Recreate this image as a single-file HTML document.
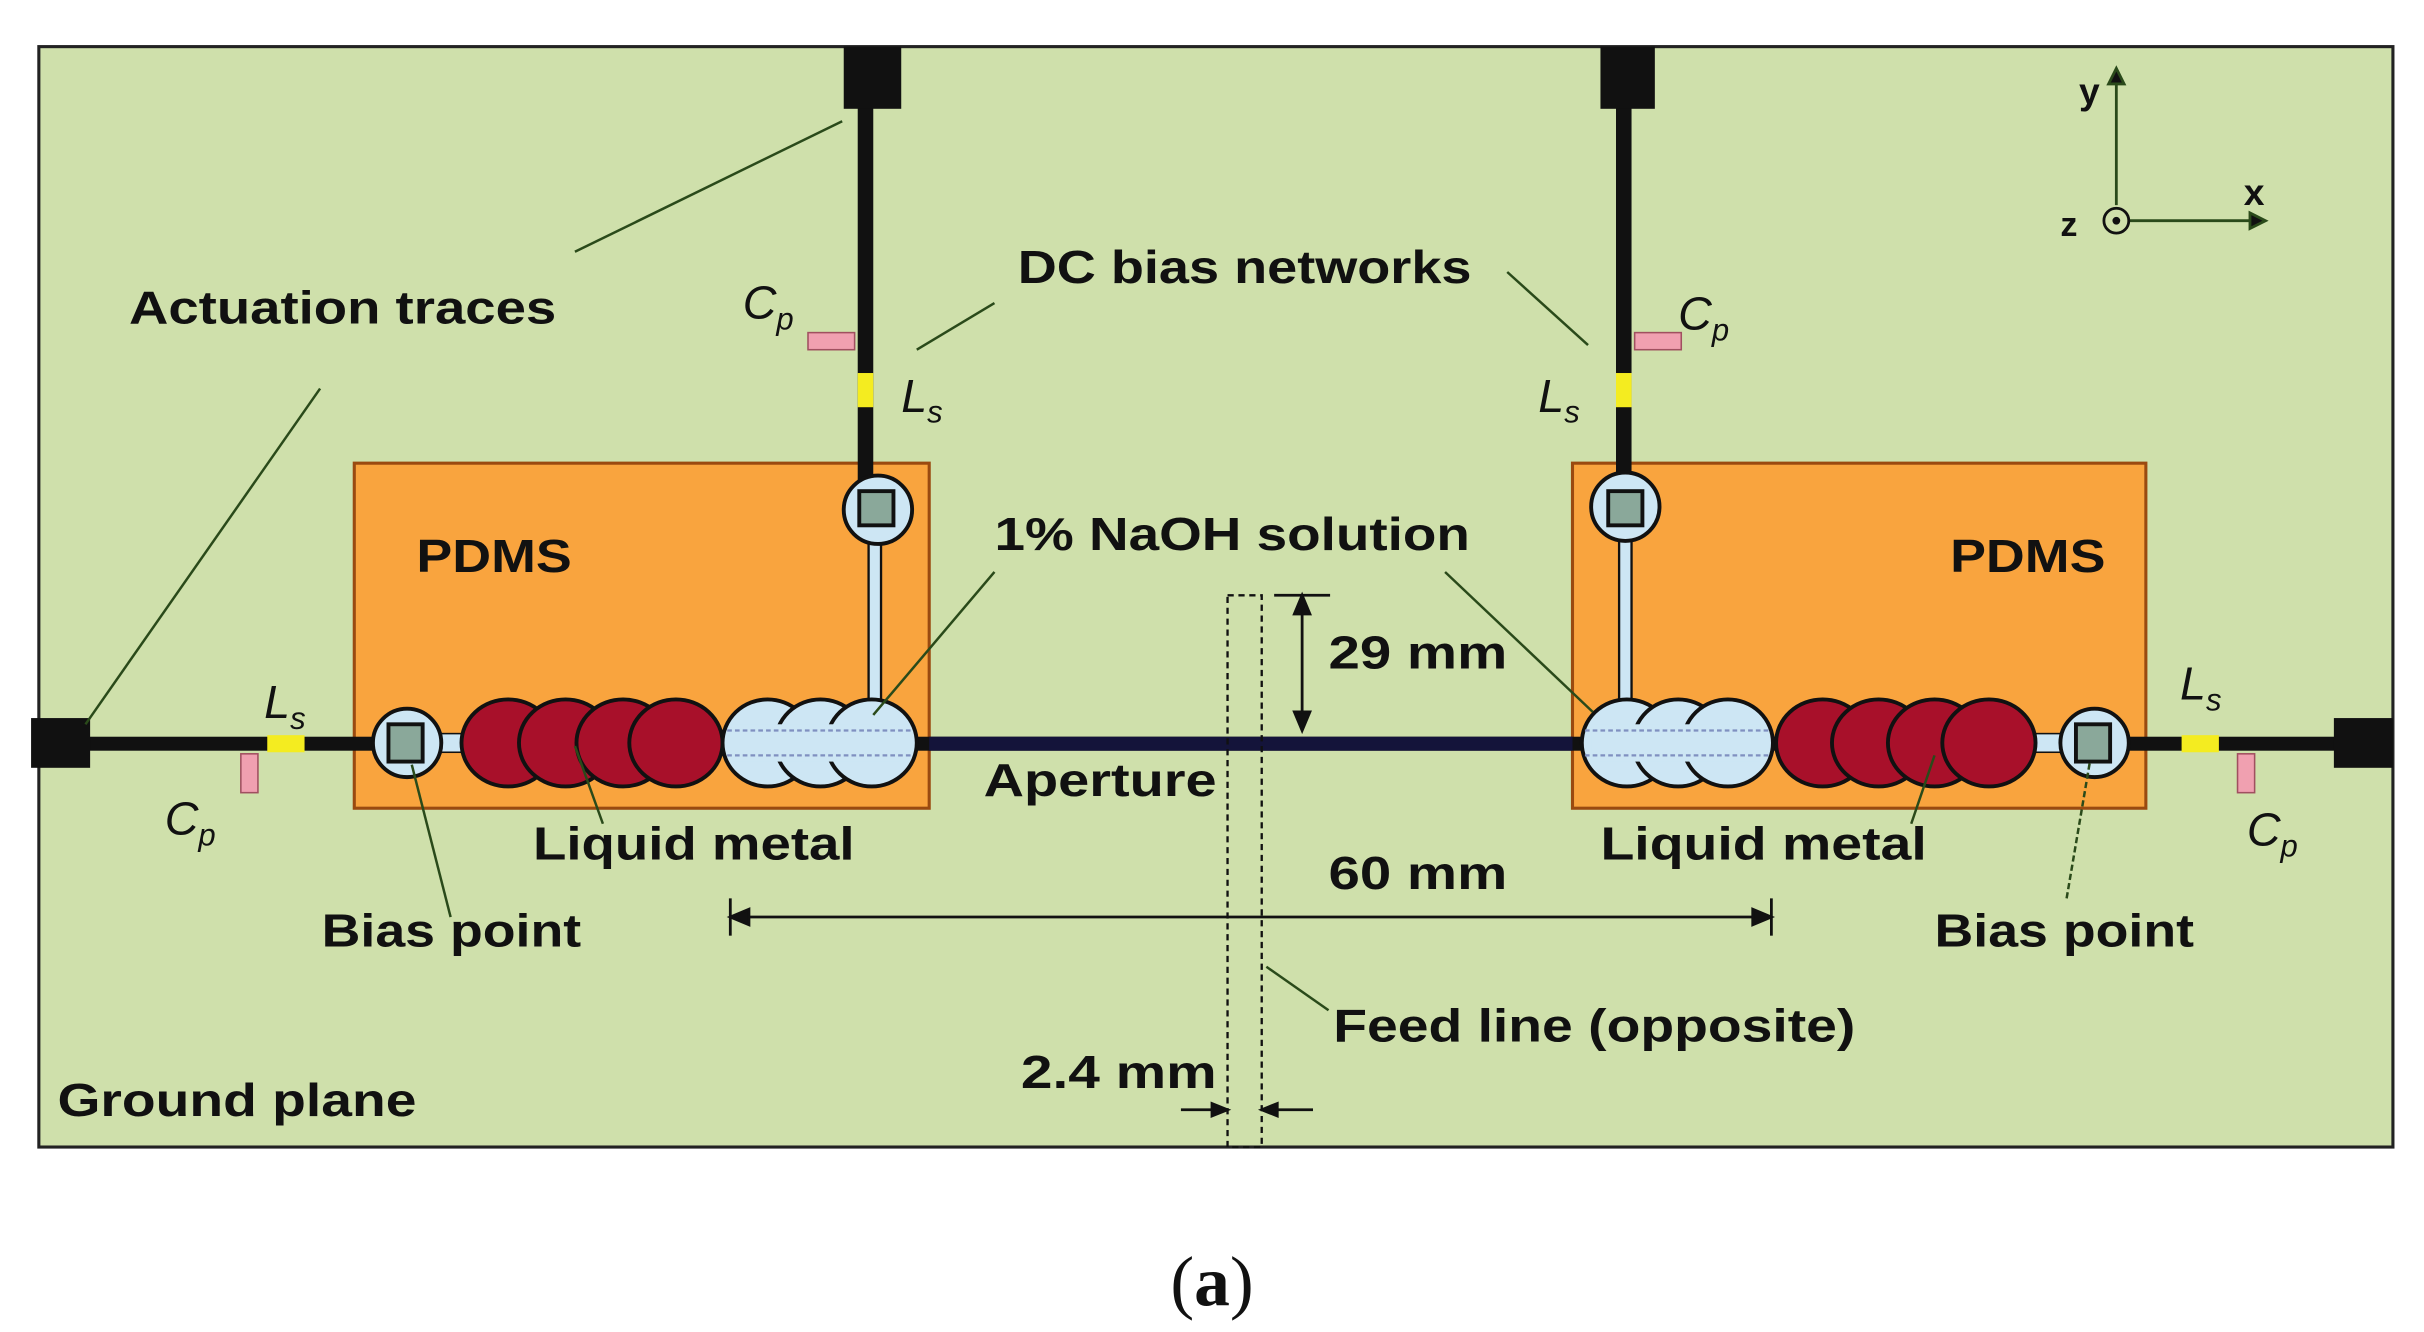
<!DOCTYPE html>
<html><head><meta charset="utf-8"><style>
html,body{margin:0;padding:0;background:#fff;}
svg{display:block;}
text{font-family:"Liberation Sans",sans-serif;font-weight:bold;fill:#111;}
.it{font-style:italic;font-weight:normal;}
</style></head><body>
<svg width="2424" height="1332" viewBox="0 0 1560 857" preserveAspectRatio="none" xmlns="http://www.w3.org/2000/svg">
<rect x="0" y="0" width="1560" height="857" fill="#fff"/>
<rect x="25" y="30" width="1515" height="708" fill="#cfe0ab" stroke="#222" stroke-width="2"/>
<!-- PDMS -->
<rect x="228" y="298" width="370" height="222" fill="#f9a43e" stroke="#9a4a10" stroke-width="2"/>
<rect x="1012" y="298" width="369" height="222" fill="#f9a43e" stroke="#9a4a10" stroke-width="2"/>
<!-- traces -->
<rect x="22" y="474" width="1516" height="9" fill="#111"/>
<rect x="598" y="474" width="414" height="9" fill="#14143a"/>
<rect x="20" y="462" width="38" height="32" fill="#111"/>
<rect x="1502" y="462" width="38" height="32" fill="#111"/>
<rect x="552" y="30" width="10" height="290" fill="#111"/>
<rect x="1040" y="30" width="10" height="290" fill="#111"/>
<rect x="543" y="30" width="37" height="40" fill="#111"/>
<rect x="1030" y="30" width="35" height="40" fill="#111"/>
<!-- components -->
<rect x="552" y="240" width="10" height="22" fill="#f4ec20"/>
<rect x="1040" y="240" width="10" height="22" fill="#f4ec20"/>
<rect x="520" y="214" width="30" height="11" fill="#f0a0b0" stroke="#a05060"/>
<rect x="1052" y="214" width="30" height="11" fill="#f0a0b0" stroke="#a05060"/>
<rect x="172" y="473" width="24" height="11" fill="#f4ec20"/>
<rect x="1404" y="473" width="24" height="11" fill="#f4ec20"/>
<rect x="155" y="485" width="11" height="25" fill="#f0a0b0" stroke="#a05060"/>
<rect x="1440" y="485" width="11" height="25" fill="#f0a0b0" stroke="#a05060"/>
<!-- left channel -->
<rect x="559" y="340" width="8" height="120" fill="#cde6f4" stroke="#111" stroke-width="1.5"/>
<rect x="1042" y="340" width="8" height="120" fill="#cde6f4" stroke="#111" stroke-width="1.5"/>
<rect x="280" y="472" width="20" height="12" fill="#cde6f4" stroke="#111"/>
<rect x="1310" y="472" width="22" height="12" fill="#cde6f4" stroke="#111"/>
<g stroke="#111" stroke-width="2.5">
<circle cx="565" cy="328" r="22" fill="#cde6f4"/>
<circle cx="1046" cy="326" r="22" fill="#cde6f4"/>
<circle cx="262" cy="478" r="22" fill="#cde6f4"/>
<circle cx="1348" cy="478" r="22" fill="#cde6f4"/>
<g fill="#a8102a">
<ellipse cx="327" cy="478" rx="30" ry="28"/><ellipse cx="364" cy="478" rx="30" ry="28"/><ellipse cx="401" cy="478" rx="30" ry="28"/><ellipse cx="435" cy="478" rx="30" ry="28"/>
<ellipse cx="1173" cy="478" rx="30" ry="28"/><ellipse cx="1209" cy="478" rx="30" ry="28"/><ellipse cx="1245" cy="478" rx="30" ry="28"/><ellipse cx="1280" cy="478" rx="30" ry="28"/>
</g>
<g fill="#cde6f4">
<ellipse cx="494" cy="478" rx="29" ry="28"/><ellipse cx="528" cy="478" rx="29" ry="28"/><ellipse cx="561" cy="478" rx="29" ry="28"/>
<ellipse cx="1047" cy="478" rx="29" ry="28"/><ellipse cx="1080" cy="478" rx="29" ry="28"/><ellipse cx="1112" cy="478" rx="29" ry="28"/>
</g>
</g>
<g fill="#cde6f4"><rect x="470" y="466" width="115" height="24"/><rect x="1024" y="466" width="112" height="24"/></g>
<g stroke="#8090c0" stroke-width="1.5" stroke-dasharray="3 2"><line x1="468" y1="470" x2="588" y2="470"/><line x1="468" y1="486" x2="588" y2="486"/><line x1="1020" y1="470" x2="1138" y2="470"/><line x1="1020" y1="486" x2="1138" y2="486"/></g>
<g fill="#8aa89a" stroke="#111" stroke-width="2.5">
<rect x="553" y="316" width="22" height="22"/><rect x="1035" y="316" width="22" height="22"/>
<rect x="250" y="466" width="22" height="24"/><rect x="1336" y="466" width="22" height="24"/>
</g>
<!-- feed line -->
<rect x="790" y="383" width="22" height="355" fill="none" stroke="#111" stroke-width="1.5" stroke-dasharray="4 3"/>
<!-- leaders -->
<g stroke="#2a4a1a" stroke-width="1.6" fill="none">
<line x1="370" y1="162" x2="542" y2="78"/>
<line x1="206" y1="250" x2="55" y2="466"/>
<line x1="640" y1="195" x2="590" y2="225"/>
<line x1="970" y1="175" x2="1022" y2="222"/>
<line x1="640" y1="368" x2="562" y2="460"/>
<line x1="930" y1="368" x2="1025" y2="458"/>
<line x1="388" y1="530" x2="370" y2="480"/>
<line x1="1015" y1="530" x2="1043" y2="494" stroke="none"/>
<line x1="1160" y1="530" x2="1175" y2="490" stroke="none"/>
<line x1="1230" y1="530" x2="1245" y2="486"/>
<line x1="290" y1="590" x2="265" y2="492"/>
<line x1="1330" y1="578" x2="1345" y2="490" stroke-dasharray="4 2"/>
<line x1="815" y1="622" x2="855" y2="650"/>
</g>
<!-- dims -->
<g stroke="#111" stroke-width="1.8" fill="#111">
<line x1="838" y1="383" x2="838" y2="470"/>
<line x1="820" y1="383" x2="856" y2="383"/>
<path d="M838 383 l-5 12 h10z M838 470 l-5 -12 h10z"/>
<line x1="470" y1="590" x2="1140" y2="590"/>
<line x1="470" y1="578" x2="470" y2="602"/>
<line x1="1140" y1="578" x2="1140" y2="602"/>
<path d="M470 590 l12 -5 v10z M1140 590 l-12 -5 v10z"/>
<line x1="760" y1="714" x2="790" y2="714"/>
<line x1="812" y1="714" x2="845" y2="714"/>
<path d="M790 714 l-10 -4 v8z M812 714 l10 -4 v8z"/>
</g>
<!-- axes -->
<g stroke="#2a4a1a" stroke-width="1.8" fill="#111">
<line x1="1362" y1="132" x2="1362" y2="48"/>
<path d="M1362 44 l-5 10 h10z"/>
<line x1="1370" y1="142" x2="1452" y2="142"/>
<path d="M1458 142 l-10 -5 v10z"/>
<circle cx="1362" cy="142" r="8" fill="none" stroke="#111"/>
<circle cx="1362" cy="142" r="2.5" stroke="none"/>
</g>
<text x="1338" y="67" font-size="24">y</text>
<text x="1444" y="132" font-size="24">x</text>
<text x="1326" y="152" font-size="22">z</text>
<!-- labels -->
<text x="83" y="208" font-size="30" textLength="275" lengthAdjust="spacingAndGlyphs">Actuation traces</text>
<text x="655" y="182" font-size="30" textLength="292" lengthAdjust="spacingAndGlyphs">DC bias networks</text>
<text x="268" y="368" font-size="30" textLength="100" lengthAdjust="spacingAndGlyphs">PDMS</text>
<text x="1255" y="368" font-size="30" textLength="100" lengthAdjust="spacingAndGlyphs">PDMS</text>
<text x="640" y="354" font-size="30" textLength="306" lengthAdjust="spacingAndGlyphs">1% NaOH solution</text>
<text x="855" y="430" font-size="30" textLength="115" lengthAdjust="spacingAndGlyphs">29 mm</text>
<text x="633" y="512" font-size="30" textLength="150" lengthAdjust="spacingAndGlyphs">Aperture</text>
<text x="343" y="553" font-size="30" textLength="207" lengthAdjust="spacingAndGlyphs">Liquid metal</text>
<text x="1030" y="553" font-size="30" textLength="210" lengthAdjust="spacingAndGlyphs">Liquid metal</text>
<text x="855" y="572" font-size="30" textLength="115" lengthAdjust="spacingAndGlyphs">60 mm</text>
<text x="207" y="609" font-size="30" textLength="167" lengthAdjust="spacingAndGlyphs">Bias point</text>
<text x="1245" y="609" font-size="30" textLength="167" lengthAdjust="spacingAndGlyphs">Bias point</text>
<text x="858" y="670" font-size="30" textLength="336" lengthAdjust="spacingAndGlyphs">Feed line (opposite)</text>
<text x="657" y="700" font-size="30" textLength="126" lengthAdjust="spacingAndGlyphs">2.4 mm</text>
<text x="37" y="718" font-size="30" textLength="231" lengthAdjust="spacingAndGlyphs">Ground plane</text>
<g font-size="30" class="it">
<text class="it" x="478" y="205">C<tspan font-size="20" dy="7">p</tspan></text>
<text class="it" x="1080" y="212">C<tspan font-size="20" dy="7">p</tspan></text>
<text class="it" x="580" y="265">L<tspan font-size="20" dy="7">s</tspan></text>
<text class="it" x="990" y="265">L<tspan font-size="20" dy="7">s</tspan></text>
<text class="it" x="170" y="462">L<tspan font-size="20" dy="7">s</tspan></text>
<text class="it" x="1403" y="450">L<tspan font-size="20" dy="7">s</tspan></text>
<text class="it" x="106" y="537">C<tspan font-size="20" dy="7">p</tspan></text>
<text class="it" x="1446" y="544">C<tspan font-size="20" dy="7">p</tspan></text>
</g>
<text x="780" y="840" font-size="46" text-anchor="middle" style="font-family:'Liberation Serif',serif;font-weight:normal;">(<tspan font-weight="bold">a</tspan>)</text>
</svg>
</body></html>
